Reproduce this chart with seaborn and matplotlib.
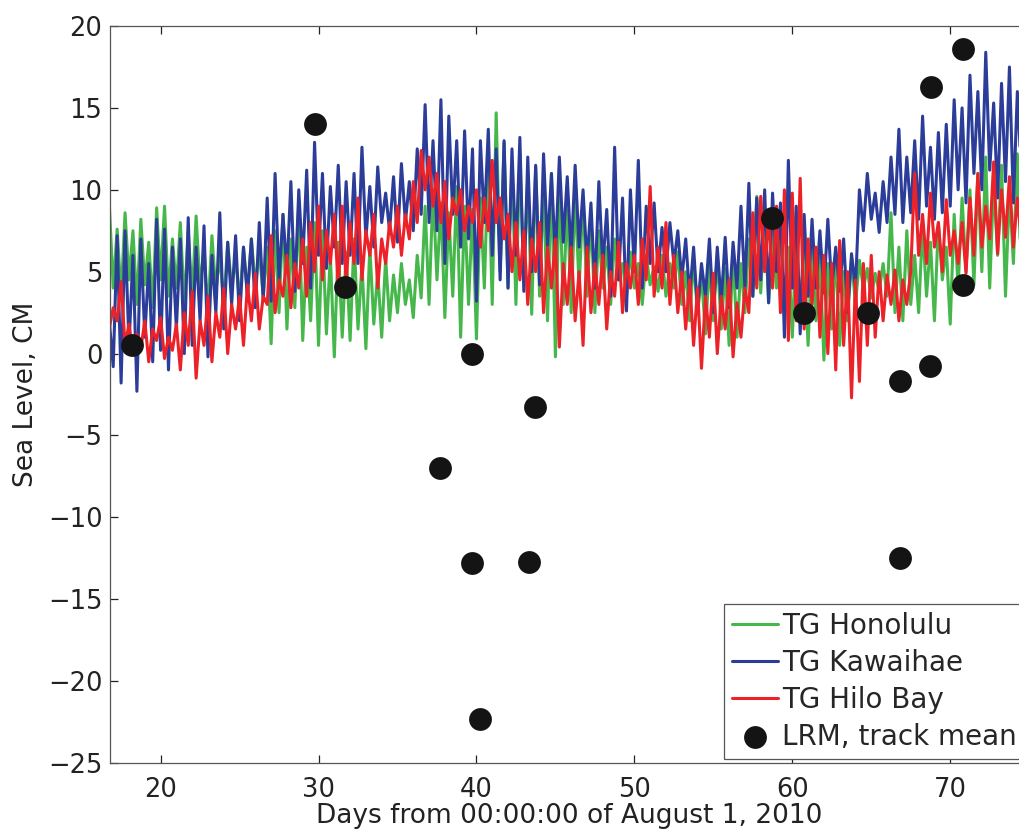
import numpy as np
import pandas as pd
import matplotlib
matplotlib.use("Agg")
import matplotlib.pyplot as plt
import seaborn as sns

# ---- data (sampled every 0.25 day starting at day 16.75) ----
start_day = 16.75
step_day = 0.25

honolulu = [
    9.2, 4.0, 7.6, 3.5, 8.6, 4.5, 7.5, 3.0, 8.2, 4.2, 6.8, 2.8, 8.9, 4.5, 9.0, 3.5, 7.0, 4.0, 8.0, 3.0,
    7.5, 3.5, 8.4, 4.0, 6.5, 2.5, 7.2, 3.8, 6.0, 3.0, 6.8, 4.0, 5.8, 3.2, 6.5, 3.6, 7.0, 4.2, 6.2, 3.5,
    6.5, 0.6, 7.5, 2.5, 8.5, 1.5, 7.0, 2.8, 9.2, 0.8, 6.5, 2.0, 8.0, 0.5, 7.5, 1.2, 6.0, -0.2, 6.8, 1.0,
    6.2, 0.8, 7.0, 1.5, 5.5, 0.3, 6.5, 1.8, 5.0, 1.0, 5.8, 2.0, 4.8, 2.5, 5.5, 3.0, 4.5, 2.2, 6.0, 3.4,
    9.0, 3.0, 10.0, 4.5, 9.2, 2.2, 8.6, 3.5, 10.2, 1.0, 9.0, 3.0, 8.8, 0.9, 9.5, 4.0, 12.0, 3.0, 14.7, 5.0,
    12.9, 4.0, 11.5, 3.0, 12.2, 4.5, 10.8, 2.4, 11.4, 3.5, 10.5, 2.0, 11.0, -0.2, 10.6, 3.0, 9.5, 2.5, 10.0, 4.0,
    9.5, 3.5, 8.5, 2.5, 7.5, 4.0, 6.5, 3.0, 7.0, 4.5, 5.5, 3.5, 6.2, 4.0, 5.5, 3.0, 6.0, 4.2, 5.3, 3.8,
    6.0, 3.5, 5.5, 4.0, 6.2, 3.0, 5.0, 2.0, 5.8, 2.4, 4.8, 1.2, 5.5, 2.0, 6.0, 1.5, 5.2, 0.5, 6.1, 1.0,
    5.5, 2.5, 7.0, 3.5, 9.6, 3.7, 8.5, 3.1, 7.5, 4.0, 7.7, 2.5, 6.5, 1.0, 7.0, 3.0, 6.1, 0.5, 6.5, 2.0,
    6.0, -0.4, 5.5, 1.5, 6.2, 0.5, 5.0, 2.0, 5.8, 3.0, 5.7, 4.0, 5.2, 3.4, 4.9, 3.8, 5.5, 3.5, 8.6, 2.5,
    6.5, 2.0, 7.5, 3.0, 6.0, 2.5, 7.8, 3.5, 6.8, 2.0, 8.0, 4.5, 6.5, 1.8, 8.5, 4.0, 9.5, 5.0, 10.0, 4.2,
    11.0, 5.0, 12.0, 4.0, 10.5, 6.0, 11.5, 3.5, 10.0, 5.5, 12.2, 4.5, 10.8, 6.0,
]

kawaihae = [
    2.0, -0.8, 7.2, -1.8, 7.5, 0.5, 6.0, -2.3, 7.0, 1.0, 5.5, -0.5, 8.2, 0.2, 7.6, -1.0, 6.5, 1.5, 7.0, 0.0,
    8.3, 0.5, 6.5, 2.0, 7.8, -0.2, 6.0, 2.5, 8.6, 1.5, 6.8, 3.0, 7.2, 2.0, 6.5, 3.5, 7.0, 2.8, 8.0, 3.2,
    9.5, 3.2, 11.0, 4.5, 8.5, 5.0, 10.5, 3.8, 10.0, 5.5, 11.2, 4.0, 12.9, 6.0, 11.0, 5.2, 10.2, 6.5, 11.5, 5.5,
    10.5, 6.0, 11.0, 5.5, 12.6, 7.0, 10.2, 6.5, 11.4, 8.0, 9.8, 7.5, 10.8, 6.8, 11.6, 8.0, 10.5, 7.5, 12.5, 8.5,
    15.2, 8.0, 13.0, 7.5, 15.5, 5.5, 14.5, 8.5, 13.0, 6.5, 13.6, 7.0, 12.5, 3.2, 13.0, 8.0, 13.7, 6.0, 12.5, 4.5,
    13.0, 4.0, 12.5, 6.0, 13.2, 3.8, 12.0, 5.0, 11.5, 4.2, 12.2, 6.5, 11.0, 5.8, 12.0, 6.8, 10.8, 6.0, 11.5, 6.5,
    10.0, 5.5, 9.2, 4.0, 10.5, 5.3, 8.8, 3.5, 12.6, 4.5, 9.5, 2.6, 10.0, 5.0, 11.8, 4.0, 9.0, 5.5, 9.2, 5.0,
    7.7, 5.0, 8.0, 5.5, 7.5, 4.5, 7.0, 3.5, 6.5, 2.6, 5.5, 3.5, 7.0, 2.5, 6.5, 3.1, 7.1, 2.8, 6.8, 4.0,
    9.0, 4.0, 10.4, 3.5, 9.5, 4.5, 10.0, 3.1, 9.8, 5.0, 9.2, 1.0, 11.8, 4.0, 9.0, 1.2, 8.5, 3.5, 8.2, 4.0,
    7.5, 3.7, 8.2, 4.0, 6.5, 3.8, 7.0, 2.5, 6.1, 4.0, 10.0, 7.5, 11.0, 8.2, 9.8, 7.4, 10.5, 8.0, 12.0, 8.5,
    13.7, 8.0, 12.0, 8.6, 13.0, 8.2, 14.5, 9.0, 12.6, 8.2, 13.5, 8.6, 14.0, 9.0, 15.5, 10.0, 15.0, 9.2, 17.0, 11.0,
    16.0, 10.0, 18.4, 11.2, 15.3, 9.5, 16.5, 10.5, 17.5, 9.2, 16.0, 11.0, 17.0, 10.5,
]

hilo_bay = [
    1.5, 2.8, 2.0, 4.4, 0.5, 1.8, 0.0, 1.2, 0.3, 2.0, -0.5, 1.5, 0.8, 2.2, -0.3, 1.0, 0.2, 1.8, -1.0, 2.5,
    0.5, 3.8, -1.5, 2.0, 0.5, 3.5, -0.5, 2.5, 1.0, 4.0, 0.0, 3.0, 1.5, 3.5, 0.5, 4.2, 2.0, 4.9, 1.5, 3.5,
    3.0, 7.2, 2.5, 4.5, 3.5, 6.0, 2.8, 5.5, 4.0, 7.0, 3.5, 8.0, 5.0, 9.0, 4.5, 7.5, 5.5, 8.5, 4.0, 9.0,
    4.3, 8.0, 5.5, 9.5, 4.5, 7.5, 6.0, 8.5, 4.0, 7.0, 5.5, 8.0, 6.5, 9.0, 6.0, 8.5, 7.0, 10.5, 8.0, 12.4,
    10.0, 12.0, 9.0, 11.0, 8.0, 10.5, 7.0, 9.5, 8.5, 10.0, 7.5, 9.0, 8.0, 10.0, 6.5, 9.5, 7.5, 11.8, 8.0, 9.5,
    7.0, 8.5, 5.0, 8.0, 4.5, 7.5, 3.0, 7.0, 5.0, 8.0, 2.5, 6.5, 4.0, 7.0, 0.4, 5.5, 3.0, 6.5, 2.0, 5.0,
    0.5, 6.5, 2.5, 5.5, 3.0, 6.0, 1.5, 5.0, 3.5, 6.8, 2.5, 5.5, 4.0, 6.0, 3.0, 7.0, 4.5, 10.2, 3.5, 6.5,
    4.0, 8.0, 3.0, 6.0, 2.5, 5.0, 1.5, 4.5, 0.5, 4.0, -0.9, 3.5, 1.0, 4.9, 0.0, 3.5, 1.5, 4.5, -0.2, 3.1,
    1.0, 4.0, 2.5, 8.6, 4.0, 9.6, 5.0, 8.5, 4.0, 9.0, 2.5, 10.0, 0.8, 9.8, 2.0, 10.7, 1.5, 7.0, 3.0, 6.5,
    1.0, 6.0, 0.0, 5.5, -1.0, 6.9, 0.5, 5.0, -2.7, 4.5, -1.7, 5.5, 0.5, 6.0, 1.0, 5.0, 2.0, 4.8, 3.0, 5.1,
    2.0, 4.5, 3.0, 5.0, 11.0, 6.0, 8.5, 5.5, 9.8, 6.5, 8.0, 5.0, 9.4, 6.0, 7.5, 5.5, 8.0, 4.9, 9.5, 6.0,
    11.0, 6.5, 9.0, 7.0, 11.7, 6.1, 10.0, 7.1, 10.8, 6.5, 9.5, 7.0, 11.2, 6.8,
]

lrm_days = [18.2, 29.75, 31.7, 39.75, 37.7, 43.7, 39.75, 43.3, 40.25,
            58.7, 60.75, 64.8, 66.8, 68.7, 66.8, 68.8, 70.8, 70.8]
lrm_level = [0.5, 14.0, 4.05, 0.0, -7.0, -3.25, -12.8, -12.7, -22.3,
             8.3, 2.45, 2.45, -1.65, -0.75, -12.5, 16.3, 18.6, 4.2]

series_names = ["TG Honolulu", "TG Kawaihae", "TG Hilo Bay"]
series_colors = ["#45b74b", "#2b3d99", "#ec2228"]

x_ticks = [20, 30, 40, 50, 60, 70]
y_ticks = [-25, -20, -15, -10, -5, 0, 5, 10, 15, 20]

# ---- build table ----
n = len(honolulu)
days = start_day + step_day * np.arange(n)
df = pd.concat([
    pd.DataFrame({"day": days, "level": vals, "gauge": name})
    for vals, name in zip([honolulu, kawaihae, hilo_bay], series_names)
], ignore_index=True)
dots = pd.DataFrame({"day": lrm_days, "level": lrm_level})

sns.set_theme(style="ticks")
plt.rcParams["font.family"] = ["DejaVu Sans"]

fig = plt.figure(figsize=(10.19, 8.32), dpi=100)
ax = fig.add_axes([0.108, 0.0829, 0.902, 0.8858])

for name, col in zip(series_names, series_colors):
    sns.lineplot(data=df[df["gauge"] == name], x="day", y="level",
                 color=col, linewidth=2.2, label=name, ax=ax, zorder=2)

sns.scatterplot(data=dots, x="day", y="level", color="#141414", s=270,
                linewidth=0, label="LRM, track mean", ax=ax, zorder=5)

ax.set_xlim(16.8, 75.0)
ax.set_ylim(-25, 20)
ax.set_xticks(x_ticks)
ax.set_yticks(y_ticks)
ax.tick_params(direction="in", length=6, width=0.9, top=True, right=True,
               labelsize=18.5, colors="#222222")
ax.tick_params(axis="x", pad=10)
ax.tick_params(axis="y", pad=5.5)
for sp in ax.spines.values():
    sp.set_linewidth(0.9)
    sp.set_color("#555555")

ax.set_xlabel("Days from 00:00:00 of August 1, 2010", fontsize=19, labelpad=0, color="#222222")
ax.set_ylabel("Sea Level, CM", fontsize=19, labelpad=6, color="#222222")

leg = ax.legend(loc="lower right", bbox_to_anchor=(1.0, 0.0), fontsize=20,
                frameon=True, fancybox=False, framealpha=1, edgecolor="#555555",
                handlelength=1.65, handletextpad=0.15, labelspacing=0.32,
                borderpad=0.3, borderaxespad=0.15)
leg.get_frame().set_linewidth(0.9)

fig.savefig("out.png", dpi=100)
